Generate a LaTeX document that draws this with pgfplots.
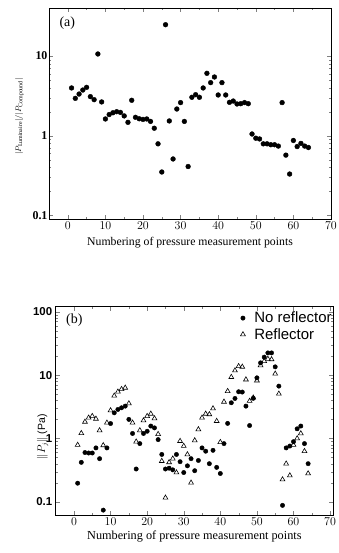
\documentclass[border=0pt]{standalone}
\usepackage{pgfplots}
\pgfplotsset{compat=1.18}
\usepackage{fontspec}
\setmainfont{Liberation Serif}
\newfontfamily\arial{Liberation Sans}
\pgfplotstableread{
n v
1 3.97
2 2.94
3 3.33
4 3.74
5 4.04
6 3.09
7 2.83
8 10.6
9 2.65
10 1.62
11 1.84
12 1.94
13 2.0
14 1.96
15 1.77
16 1.47
17 2.78
18 1.70
19 1.63
20 1.60
21 1.62
22 1.51
23 1.24
24 0.79
25 0.35
26 24.7
27 1.53
28 0.51
29 2.16
30 2.6
31 1.51
32 0.41
33 3.03
34 3.27
35 3.03
36 3.97
37 6.06
38 4.63
39 5.45
40 3.24
41 4.63
42 3.24
43 2.62
44 2.72
45 2.5
46 2.52
47 2.6
48 2.52
49 1.05
50 0.93
51 0.91
52 0.79
53 0.79
54 0.77
55 0.77
56 0.74
57 2.6
58 0.57
59 0.33
60 0.87
61 0.73
62 0.8
63 0.74
64 0.71
}\tabA
\pgfplotstableread{
n v
1 0.197
2 0.42
3 0.60
4 0.59
5 0.59
6 0.71
7 0.48
8 0.074
9 0.71
10 1.72
11 2.54
12 2.87
13 3.05
14 3.24
15 2.0
16 1.2
17 0.33
18 0.83
19 1.2
20 1.3
21 1.57
22 1.47
23 0.96
24 0.56
25 0.33
26 0.34
27 0.32
28 0.56
29 0.43
30 0.29
31 0.37
32 0.48
33 0.31
34 0.45
35 0.71
36 0.63
37 0.40
38 0.65
39 0.35
40 0.28
41 0.83
42 1.73
43 3.66
44 4.28
45 5.46
46 5.4
47 3.24
48 1.6
49 4.3
50 9.05
51 15.6
52 19.2
53 22.4
54 22.4
55 13.5
56 6.7
57 0.088
58 0.71
59 0.76
60 0.89
61 1.42
62 1.57
63 0.83
64 0.40
}\tabB
\pgfplotstableread{
n v
1 0.79
2 1.21
3 1.83
4 2.12
5 2.25
6 2.04
7 1.34
8 0.78
9 1.77
10 2.77
11 4.72
12 5.46
13 6.0
14 6.3
15 3.57
16 1.77
17 0.89
18 1.34
19 1.92
20 2.25
21 2.45
22 2.07
23 1.17
24 0.44
25 0.116
26 0.42
27 0.48
28 0.29
29 0.91
30 0.76
31 0.56
32 0.20
33 0.93
34 1.39
35 2.12
36 2.45
37 2.4
38 2.97
39 1.88
40 0.875
41 3.79
42 5.58
43 9.3
44 11.8
45 13.8
46 13.5
47 8.5
48 3.9
49 4.4
50 8.2
51 14.2
52 16.6
53 18.0
54 17.7
55 10.5
56 5.07
57 0.225
58 0.40
59 0.26
60 0.79
61 1.0
62 1.2
63 0.63
64 0.28
}\tabC
\begin{document}
\begin{tikzpicture}
\path[use as bounding box] (0,0) rectangle (339bp,-553bp);
\begin{axis}[
  scale only axis,
  at={(49bp,-219bp)}, anchor=south west,
  width=282bp, height=211bp,
  ymode=log,
  xmin=-5, xmax=70,
  ymin=0.09, ymax=40,
  xtick={0,10,20,30,40,50,60,70},
  minor x tick num=1,
  ytick={0.1,1,10}, yticklabels={0.1,1,10},
  tick align=inside,
  major tick length=4bp,
  minor tick length=2bp,
  axis line style={line width=0.9pt},
  x tick label style={font=\fontsize{12}{14}\selectfont\bfseries, yshift=1pt},
  y tick label style={font=\fontsize{12}{14}\selectfont\bfseries, xshift=2pt},
  xlabel={Numbering of pressure measurement points},
  xlabel style={font=\fontsize{11.8}{14}\selectfont, yshift=-1pt},
  ylabel={$|P_{\mathrm{Luminaire}}|/|P_{\mathrm{Compound}}|$},
  ylabel style={font=\fontsize{8.5}{10}\selectfont, xshift=-3pt, yshift=2pt},
  clip=false,
]
\addplot[only marks, mark=*, mark size=2.4bp, black] table[x=n,y=v] {\tabA};
\node[anchor=north west, font=\fontsize{14}{16}\selectfont] at (rel axis cs:0.025,0.975) {(a)};
\end{axis}
\begin{axis}[
  scale only axis,
  at={(55.7bp,-515bp)}, anchor=south west,
  width=277.3bp, height=208.3bp,
  ymode=log,
  xmin=-5, xmax=70.8,
  ymin=0.062, ymax=120,
  xtick={0,10,20,30,40,50,60,70},
  minor x tick num=1,
  ytick={0.1,1,10,100}, yticklabels={0.1,1,10,100},
  tick align=inside,
  major tick length=4bp,
  minor tick length=2bp,
  axis line style={line width=0.9pt},
  x tick label style={font=\fontsize{12}{14}\selectfont\bfseries, yshift=1pt},
  y tick label style={font=\arial\fontsize{11.5}{14}\selectfont\bfseries},
  xlabel={Numbering of pressure measurement points},
  xlabel style={font=\fontsize{12.3}{14}\selectfont, yshift=1pt},
  ylabel={$\|P_j\|$ (Pa)},
  ylabel style={font=\arial\fontsize{10.5}{12}\selectfont, at={(ticklabel* cs:0.375)}, yshift=4pt},
  legend style={draw=none, fill=none, at={(0.655,0.995)}, anchor=north west,
    font=\arial\fontsize{15}{17}\selectfont, row sep=0pt,
    /tikz/every odd column/.style={column sep=7pt}},
  legend cell align=left,
  clip=false,
]
\addplot[only marks, mark=*, mark size=2.2bp, black] table[x=n,y=v] {\tabB};
\addlegendentry{No reflector}
\addplot[only marks, mark=triangle, mark size=2.8bp, black, mark options={line width=0.6pt}] table[x=n,y=v] {\tabC};
\addlegendentry{Reflector}
\node[anchor=north west, font=\fontsize{14}{16}\selectfont] at (rel axis cs:0.025,0.985) {(b)};
\end{axis}
\end{tikzpicture}
\end{document}
